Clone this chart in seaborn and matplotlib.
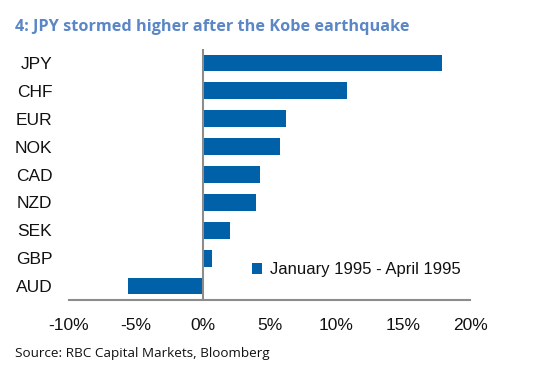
import matplotlib.pyplot as plt
import seaborn as sns
import pandas as pd

currencies = ["JPY", "CHF", "EUR", "NOK", "CAD", "NZD", "SEK", "GBP", "AUD"]
change_pct = [17.9, 10.8, 6.2, 5.8, 4.3, 4.0, 2.05, 0.72, -5.55]
series_label = "January 1995 - April 1995"
x_ticks = [-10, -5, 0, 5, 10, 15, 20]

df = pd.DataFrame({"currency": currencies, "change": change_pct})

sns.set_theme(style="white")
plt.rcParams["font.family"] = ["Liberation Sans", "DejaVu Sans"]

bar_color = "#0060A8"

fig = plt.figure(figsize=(5.41, 3.78), dpi=100)
ax = fig.add_axes([0.1275, 0.2063, 0.7413, 0.6641])

sns.barplot(data=df, x="change", y="currency", color=bar_color, width=0.6,
            saturation=1, linewidth=0, ax=ax, label=series_label)

ax.axvline(0, color="#8c8c8c", lw=1.5, zorder=3)
ax.set_xlim(-10, 20)
ax.set_ylim(8.5, -0.5)
ax.set_xticks(x_ticks)
ax.set_xticklabels([f"{t}%" for t in x_ticks])
ax.set_xlabel("")
ax.set_ylabel("")
ax.tick_params(axis="x", length=0, pad=13, labelsize=12.5, colors="#111111")
ax.tick_params(axis="y", length=0, pad=12, labelsize=12.5, colors="#111111")

for s in ["top", "right", "left"]:
    ax.spines[s].set_visible(False)
ax.spines["bottom"].set_color("#8c8c8c")
ax.spines["bottom"].set_linewidth(1.5)

ax.legend(loc="center left", bbox_to_anchor=(0.42, 0.12), frameon=False,
          handlelength=0.6, handleheight=0.6, handletextpad=0.45,
          fontsize=12, labelcolor="#111111")

fig.text(15 / 541, 1 - 27 / 378, "4: JPY stormed higher after the Kobe earthquake",
         fontsize=11.7, fontweight="bold", color="#5B87C6", family="Open Sans",
         va="center", ha="left")
fig.text(15 / 541, 1 - 353 / 378, "Source: RBC Capital Markets, Bloomberg",
         fontsize=9.7, color="#111111", family="Open Sans", va="center", ha="left")

fig.savefig("out.png", dpi=100)
